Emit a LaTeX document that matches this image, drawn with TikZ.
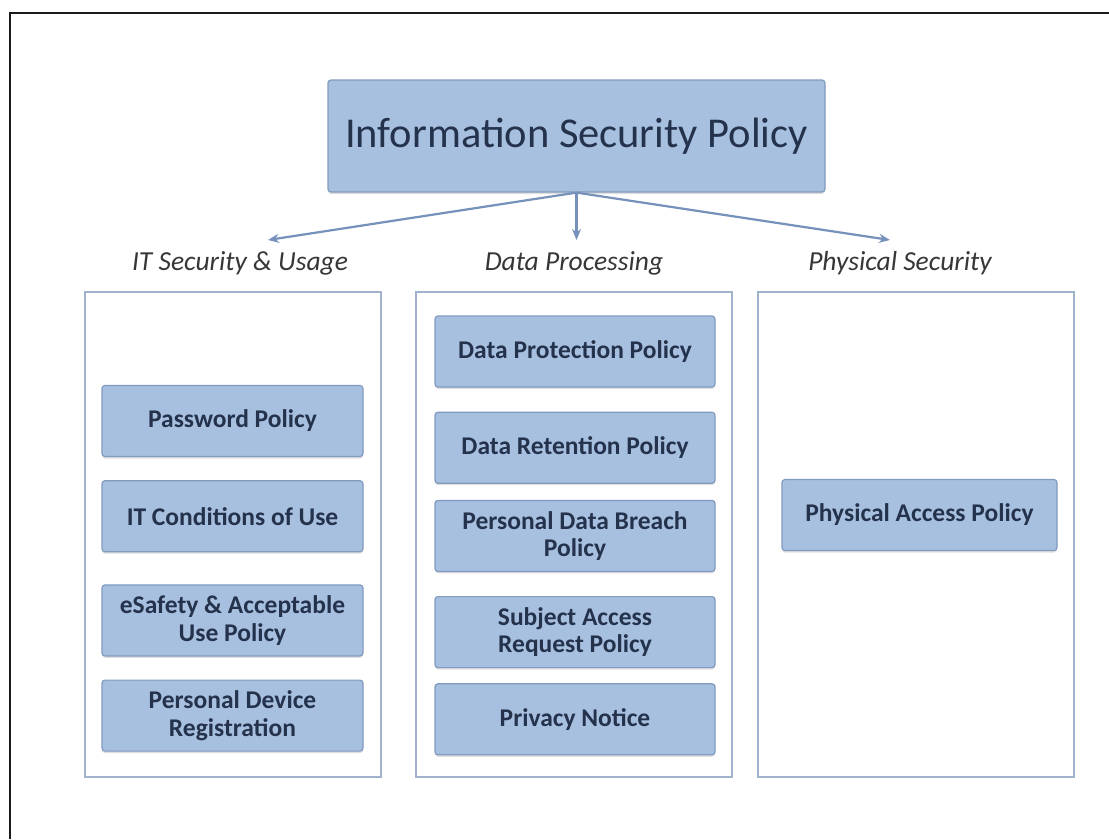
\documentclass[tikz,border=0pt]{standalone}
\usepackage{fontspec}
\setmainfont{Carlito}
\usepackage{tikz}
\usetikzlibrary{arrows.meta, positioning, shadows}
\usepackage{xcolor}
\definecolor{cFill}{RGB}{168,192,224}
\definecolor{cEdge}{RGB}{128,154,192}
\definecolor{cFrame}{RGB}{160,178,204}
\definecolor{cArrow}{RGB}{118,145,186}
\definecolor{cText}{RGB}{36,50,76}
\definecolor{cLabel}{RGB}{55,55,58}
\tikzset{
  basebox/.style={rectangle, rounded corners=3pt, draw=cEdge, fill=cFill,
                  line width=1.2pt, align=center, text=cText,
                  drop shadow={opacity=0.25, shadow xshift=0pt, shadow yshift=-2pt}},
  titlenode/.style={basebox, minimum width=497pt, minimum height=112pt,
                    font=\fontsize{42.5}{46}\selectfont},
  leftpol/.style={basebox, minimum width=261pt, minimum height=71pt,
                  font=\fontsize{25.5}{27.5}\selectfont\bfseries},
  midpol/.style={leftpol, minimum width=280pt},
  rightpol/.style={leftpol, minimum width=275pt},
  groupbox/.style={rectangle, draw=cFrame, fill=white, line width=1.8pt},
  grouplabel/.style={font=\fontsize{27.5}{30}\selectfont\itshape, text=cLabel},
  arrow/.style={-{Stealth[length=11pt, width=9pt]}, line width=2.2pt, color=cArrow}
}

\begin{document}
\begin{tikzpicture}[x=1pt, y=-1pt]

  % page frame
  \useasboundingbox (0,0) rectangle (1109,839);
  \fill[white] (0,0) rectangle (1109,839);
  \draw[line width=2.5pt, black!90] (10,839) -- (10,13) -- (1109,13);

  % -- top level policy --
  \node[titlenode] (isp) at (576.5,136) {Information Security Policy};

  % -- group headings --
  \node[grouplabel] (itsec) at (240,263) {IT Security \& Usage};
  \node[grouplabel] (dproc) at (574,263) {Data Processing};
  \node[grouplabel] (physec) at (900,263) {Physical Security};

  % -- group frames --
  \node[groupbox, minimum width=296pt, minimum height=485pt] (colit) at (233,534.5) {};
  \node[groupbox, minimum width=316pt, minimum height=485pt] (coldp) at (574,534.5) {};
  \node[groupbox, minimum width=316pt, minimum height=485pt] (colps) at (916,534.5) {};

  % -- IT security & usage --
  \node[leftpol] (pwd) at (232.5,421) {Password Policy};
  \node[leftpol, below=23pt of pwd] (itcond) {IT Conditions of Use};
  \node[leftpol, below=32pt of itcond] (esafe) {eSafety \& Acceptable\\Use Policy};
  \node[leftpol, below=23pt of esafe] (pdev) {Personal Device\\Registration};

  % -- data processing --
  \node[midpol] (dpp) at (575,351.5) {Data Protection Policy};
  \node[midpol, below=24pt of dpp] (drp) {Data Retention Policy};
  \node[midpol, below=16pt of drp] (breach) {Personal Data Breach\\Policy};
  \node[midpol, below=24pt of breach] (sar) {Subject Access\\Request Policy};
  \node[midpol, below=15pt of sar] (privacy) {Privacy Notice};

  % -- physical security --
  \node[rightpol] (pap) at (919.5,515) {Physical Access Policy};

  % -- arrows --
  \coordinate (itend) at (268,240);
  \coordinate (dpend) at (576.5,240);
  \coordinate (psend) at (890,240);
  \draw[arrow] (isp.south) -- (itend);
  \draw[arrow] (isp.south) -- (dpend);
  \draw[arrow] (isp.south) -- (psend);

\end{tikzpicture}
\end{document}
